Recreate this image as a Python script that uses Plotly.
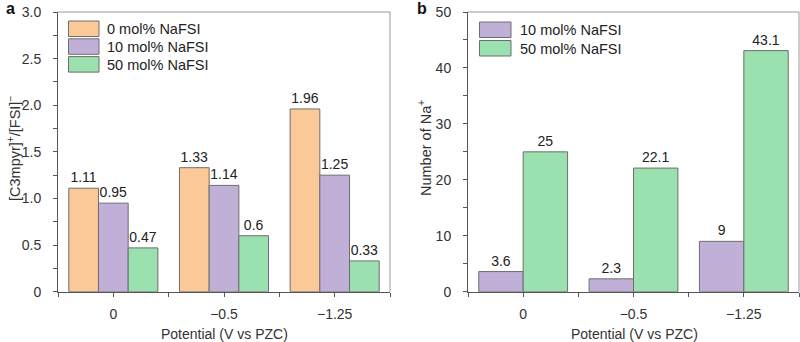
import plotly.graph_objects as go

# Potentials (V vs PZC) and bar values
potentials = ["0", "−0.5", "−1.25"]
ratio_0 = [1.11, 1.33, 1.96]
ratio_10 = [0.95, 1.14, 1.25]
ratio_50 = [0.47, 0.60, 0.33]
na_10 = [3.6, 2.3, 9]
na_50 = [25, 22.1, 43.1]

series_names = ["0 mol% NaFSI", "10 mol% NaFSI", "50 mol% NaFSI"]
colors = ["#FBC898", "#C0B0D8", "#9BE0AF"]
edge = "#6e6e6e"
font_family = "Liberation Sans, Arial, Helvetica, sans-serif"
W, H = 800, 342

xpos = list(range(len(potentials)))

fig = go.Figure()


def fmt(v):
    return f"{v:g}"


def add_bars(values, name, color, xa, ya):
    fig.add_trace(go.Bar(
        x=xpos, y=values, name=name,
        marker=dict(color=color, line=dict(color=edge, width=1)),
        text=[fmt(v) for v in values], textposition="outside",
        textfont=dict(size=14, color="#222", family=font_family),
        cliponaxis=False, xaxis=xa, yaxis=ya, showlegend=False,
    ))


# Panel a: [C3mpyr]+/[FSI]- ratio, three concentrations
for vals, nm, col in zip([ratio_0, ratio_10, ratio_50], series_names, colors):
    add_bars(vals, nm, col, "x", "y")
# Panel b: number of Na+, two concentrations
for vals, nm, col in zip([na_10, na_50], series_names[1:], colors[1:]):
    add_bars(vals, nm, col, "x2", "y2")


def px_x(p):
    return p / W


def px_y(p):
    return 1 - p / H


dom_a = [px_x(58), px_x(390)]
dom_b = [px_x(468), px_x(799)]
dom_y = [px_y(291.7), px_y(12)]

axis_common = dict(
    showline=True, linecolor="#555", linewidth=1, mirror=False,
    ticks="outside", ticklen=4, tickcolor="#555", tickwidth=1,
    showgrid=False, zeroline=False, automargin=False,
    tickfont=dict(size=14, color="#333", family=font_family),
)

xaxis_common = dict(
    axis_common, range=[-0.5, 2.5], tickvals=xpos, ticktext=potentials,
    ticklabelstandoff=5,
    minor=dict(tickvals=[-0.5, 0.5, 1.5, 2.5], ticks="outside", ticklen=4,
               tickcolor="#555"),
)

fig.update_layout(
    width=W, height=H, margin=dict(l=0, r=0, t=0, b=0, autoexpand=False),
    paper_bgcolor="white", plot_bgcolor="white",
    barmode="group", bargap=0.195, bargroupgap=0,
    font=dict(family=font_family, color="#333"),
    xaxis=dict(xaxis_common, domain=dom_a, anchor="y"),
    yaxis=dict(axis_common, domain=dom_y, anchor="x", range=[0, 3.0],
               tickvals=[0, 0.5, 1.0, 1.5, 2.0, 2.5, 3.0],
               ticktext=["0", "0.5", "1.0", "1.5", "2.0", "2.5", "3.0"],
               ticklabelstandoff=9,
               minor=dict(dtick=0.25, ticks="outside", ticklen=4, tickcolor="#555")),
    xaxis2=dict(xaxis_common, domain=dom_b, anchor="y2"),
    yaxis2=dict(axis_common, domain=dom_y, anchor="x2", range=[0, 50],
                tickvals=[0, 10, 20, 30, 40, 50], ticklabelstandoff=9,
                minor=dict(dtick=5, ticks="outside", ticklen=4, tickcolor="#555")),
)

# Frame: top and right edges of each panel in lighter grey
shapes = []
for xr, yr in [("x domain", "y domain"), ("x2 domain", "y2 domain")]:
    shapes.append(dict(type="line", xref=xr, yref=yr, x0=0, x1=1, y0=1, y1=1,
                       line=dict(color="#999", width=1)))
    shapes.append(dict(type="line", xref=xr, yref=yr, x0=1, x1=1, y0=0, y1=1,
                       line=dict(color="#999", width=1)))

annotations = []


# Legends drawn as wide swatches with labels
def legend(names, cols, box_x0, box_x1, top, pitch, text_x):
    for i, (nm, col) in enumerate(zip(names, cols)):
        y0 = top + i * pitch
        shapes.append(dict(type="rect", xref="paper", yref="paper",
                           x0=px_x(box_x0), x1=px_x(box_x1),
                           y0=px_y(y0), y1=px_y(y0 + 15.5),
                           fillcolor=col, line=dict(color=edge, width=1)))
        annotations.append(dict(text=nm, xref="paper", yref="paper",
                                x=px_x(text_x), y=px_y(y0 + 8), xanchor="left",
                                yanchor="middle", showarrow=False,
                                font=dict(size=14.5, color="#222", family=font_family)))


legend(series_names, colors, 68.5, 99, 21, 17.8, 105)
legend(series_names[1:], colors[1:], 479.5, 511, 22, 18.5, 518)

# Panel letters
annotations.append(dict(text="<b>a</b>", xref="paper", yref="paper", x=px_x(4),
                        y=px_y(9), xanchor="left", yanchor="middle", showarrow=False,
                        font=dict(size=16, color="#111", family=font_family)))
annotations.append(dict(text="<b>b</b>", xref="paper", yref="paper", x=px_x(415),
                        y=px_y(9), xanchor="left", yanchor="middle", showarrow=False,
                        font=dict(size=16, color="#111", family=font_family)))

# Axis titles
title_font = dict(size=14, color="#333", family=font_family)
ytitle_font = dict(size=14.5, color="#333", family=font_family)
annotations.append(dict(text="[C3mpyr]<sup>+</sup>/[FSI]<sup>−</sup>", xref="paper",
                        yref="paper", x=px_x(14), y=px_y(149), textangle=-90,
                        showarrow=False, xanchor="center", yanchor="middle",
                        font=ytitle_font))
annotations.append(dict(text="Number of Na<sup>+</sup>", xref="paper", yref="paper",
                        x=px_x(425), y=px_y(148), textangle=-90, showarrow=False,
                        xanchor="center", yanchor="middle", font=ytitle_font))
annotations.append(dict(text="Potential (V vs PZC)", xref="paper", yref="paper",
                        x=px_x(224), y=px_y(334), showarrow=False,
                        xanchor="center", yanchor="middle", font=title_font))
annotations.append(dict(text="Potential (V vs PZC)", xref="paper", yref="paper",
                        x=px_x(634), y=px_y(334), showarrow=False,
                        xanchor="center", yanchor="middle", font=title_font))

fig.update_layout(shapes=shapes, annotations=annotations)

fig.write_html("out.html")
